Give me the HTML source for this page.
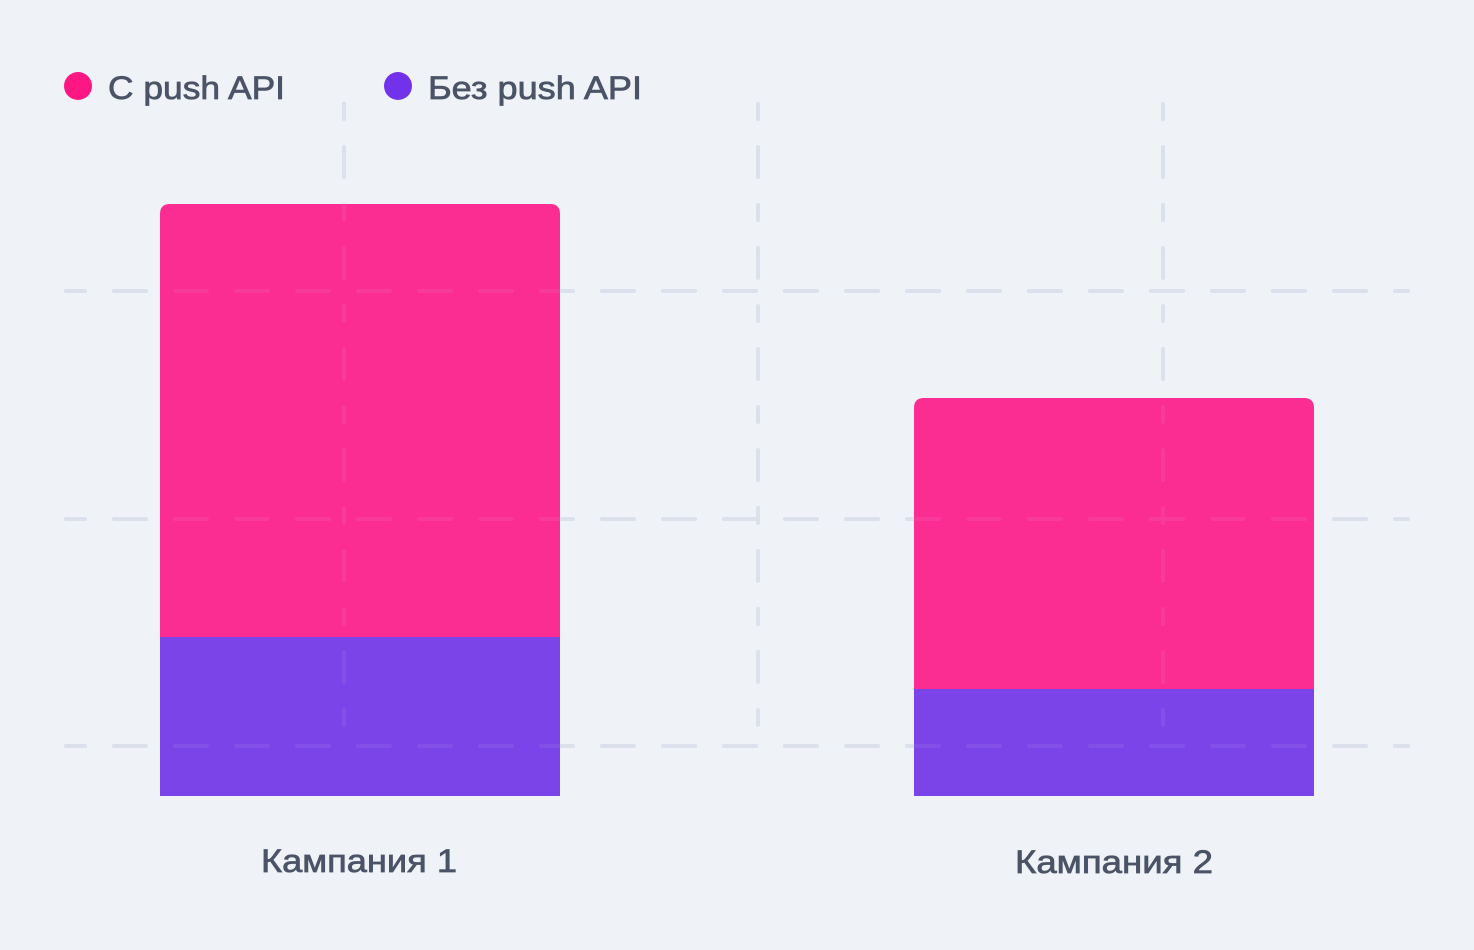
<!DOCTYPE html>
<html><head><meta charset="utf-8"><style>
html,body{margin:0;padding:0;background:#eff2f7;}
svg{display:block;}
text{font-family:"Liberation Sans","DejaVu Sans",sans-serif;fill:#4b5467;stroke:#4b5467;stroke-width:0.7;}
</style></head><body>
<svg width="1474" height="950" viewBox="0 0 1474 950" xmlns="http://www.w3.org/2000/svg">
<rect width="1474" height="950" fill="#eff2f7"/>
<g id="grid" stroke="#dce1eb" stroke-width="4" stroke-linecap="round" fill="none">
<line x1="66" y1="291" x2="1408" y2="291" stroke-dasharray="32 29" stroke-dashoffset="13"/>
<line x1="66" y1="519" x2="1408" y2="519" stroke-dasharray="32 29" stroke-dashoffset="13"/>
<line x1="66" y1="746" x2="1408" y2="746" stroke-dasharray="32 29" stroke-dashoffset="13"/>
<line x1="344" y1="104" x2="344" y2="743" stroke-dasharray="15 28 30 28" />
<line x1="758" y1="104" x2="758" y2="743" stroke-dasharray="15 28 30 28" />
<line x1="1163" y1="104" x2="1163" y2="743" stroke-dasharray="15 28 30 28" />
</g>
<path d="M160,796 V214 Q160,204 170,204 H550 Q560,204 560,214 V637 H160 Z" fill="#fb2c92"/>
<rect x="160" y="637" width="400" height="159" fill="#7b44e8"/>
<path d="M914,796 V408 Q914,398 924,398 H1304 Q1314,398 1314,408 V689 H914 Z" fill="#fb2c92"/>
<rect x="914" y="689" width="400" height="107" fill="#7b44e8"/>
<use href="#grid" opacity="0.08" style="filter:none"/>
<circle cx="78" cy="86" r="14" fill="#fe1683"/>
<text x="108" y="99" font-size="32" textLength="177" lengthAdjust="spacingAndGlyphs">С push API</text>
<circle cx="398" cy="86" r="14" fill="#7132ea"/>
<text x="428" y="99" font-size="32" textLength="214" lengthAdjust="spacingAndGlyphs">Без push API</text>
<text x="261" y="872" font-size="32" textLength="196" lengthAdjust="spacingAndGlyphs">Кампания 1</text>
<text x="1015" y="873" font-size="32" textLength="198" lengthAdjust="spacingAndGlyphs">Кампания 2</text>
</svg>
</body></html>
